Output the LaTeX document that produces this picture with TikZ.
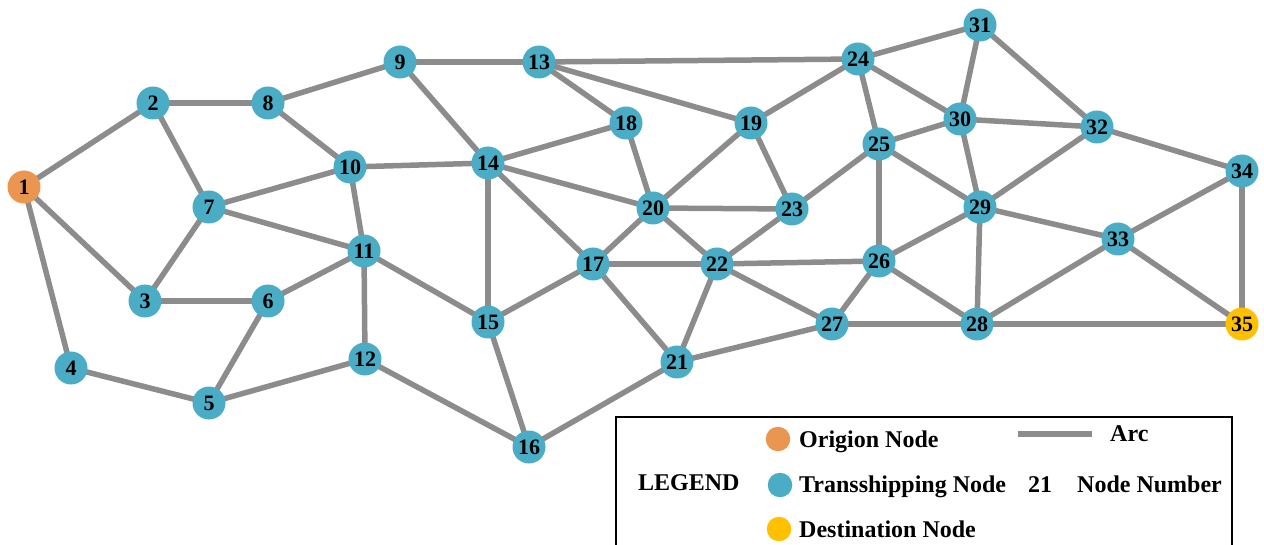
\documentclass[tikz,border=0pt]{standalone}
\usepackage{fontspec}
\setmainfont{Liberation Serif}
\usetikzlibrary{backgrounds}
\definecolor{edgegray}{HTML}{8C8C8C}
\definecolor{tnode}{HTML}{4BACC6}
\definecolor{onode}{HTML}{EA9650}
\definecolor{dnode}{HTML}{FFC000}
\begin{document}
\begin{tikzpicture}[x=1pt,y=-1pt,
  vtx/.style={circle, fill=tnode, minimum size=33pt, inner sep=0pt,
    font=\bfseries\fontsize{22}{22}\selectfont},
  orig/.style={vtx, fill=onode},
  dest/.style={vtx, fill=dnode},
  arcline/.style={draw=edgegray, line width=5.5pt},
  legdot/.style={circle, minimum size=24.5pt, inner sep=0pt},
  legtext/.style={anchor=base west, inner sep=0pt, font=\bfseries\fontsize{24}{24}\selectfont},
  legframe/.style={draw=black, line width=2.8pt}
]
\useasboundingbox (0,0) rectangle (1264,545);
% nodes
\node[orig] (n1) at (24,187) {1};
\node[vtx] (n2) at (153,103) {2};
\node[vtx] (n3) at (145,301) {3};
\node[vtx] (n4) at (71,368) {4};
\node[vtx] (n5) at (209,403) {5};
\node[vtx] (n6) at (268,301) {6};
\node[vtx] (n7) at (209,207) {7};
\node[vtx] (n8) at (268,103) {8};
\node[vtx] (n9) at (400,62) {9};
\node[vtx] (n10) at (350,167) {10};
\node[vtx] (n11) at (364,251) {11};
\node[vtx] (n12) at (365,359) {12};
\node[vtx] (n13) at (539,62) {13};
\node[vtx] (n14) at (488,163) {14};
\node[vtx] (n15) at (488,322) {15};
\node[vtx] (n16) at (529,447) {16};
\node[vtx] (n17) at (593,264) {17};
\node[vtx] (n18) at (626,123) {18};
\node[vtx] (n19) at (751,123) {19};
\node[vtx] (n20) at (653,208) {20};
\node[vtx] (n21) at (677,362) {21};
\node[vtx] (n22) at (717,264) {22};
\node[vtx] (n23) at (792,209) {23};
\node[vtx] (n24) at (858,59) {24};
\node[vtx] (n25) at (879,144) {25};
\node[vtx] (n26) at (879,261) {26};
\node[vtx] (n27) at (832,324) {27};
\node[vtx] (n28) at (977,324) {28};
\node[vtx] (n29) at (980,207) {29};
\node[vtx] (n30) at (960,119) {30};
\node[vtx] (n31) at (980,25) {31};
\node[vtx] (n32) at (1097,127) {32};
\node[vtx] (n33) at (1118,239) {33};
\node[vtx] (n34) at (1242,171) {34};
\node[dest] (n35) at (1242,324) {35};
% edges
\begin{scope}[on background layer]
\foreach \a/\b in {1/2,1/3,1/4,2/8,2/7,8/9,8/10,10/7,10/14,10/11,7/11,7/3,3/6,6/11,6/5,4/5,5/12,11/12,11/15,12/16,
  9/13,9/14,13/24,13/18,13/19,14/18,14/20,14/17,14/15,15/17,15/16,16/21,18/20,19/20,19/23,19/24,20/23,20/17,20/22,
  17/22,17/21,22/21,22/23,22/26,22/27,21/27,23/25,24/31,24/25,24/30,25/30,25/26,25/29,30/31,30/32,30/29,31/32,
  32/29,32/34,29/26,29/33,29/28,26/27,26/28,27/28,28/33,28/35,33/34,33/35,34/35}
  \draw[arcline] (n\a.center) -- (n\b.center);
\end{scope}
% legend
\draw[legframe] (616,560) -- (616,417) -- (1232,417) -- (1232,560);
\node[legtext] (lg) at (638,490) {LEGEND};
\node[legdot, fill=onode] (lo) at (778,439) {};
\node[legtext] (lot) at (799,447) {Origion Node};
\node[legdot, fill=tnode] (lt) at (780,485) {};
\node[legtext] (ltt) at (799,492) {Transshipping Node};
\node[legdot, fill=dnode] (ld) at (779,529) {};
\node[legtext] (ldt) at (799,537) {Destination Node};
\coordinate (la) at (1018,434);
\coordinate (lb) at (1092,434);
\draw[draw=edgegray, line width=6pt] (la) -- (lb);
\node[legtext] (lat) at (1110,441) {Arc};
\node[legtext] (lnum) at (1028,492) {21};
\node[legtext] (lnt) at (1077,492) {Node Number};
\end{tikzpicture}
\end{document}
